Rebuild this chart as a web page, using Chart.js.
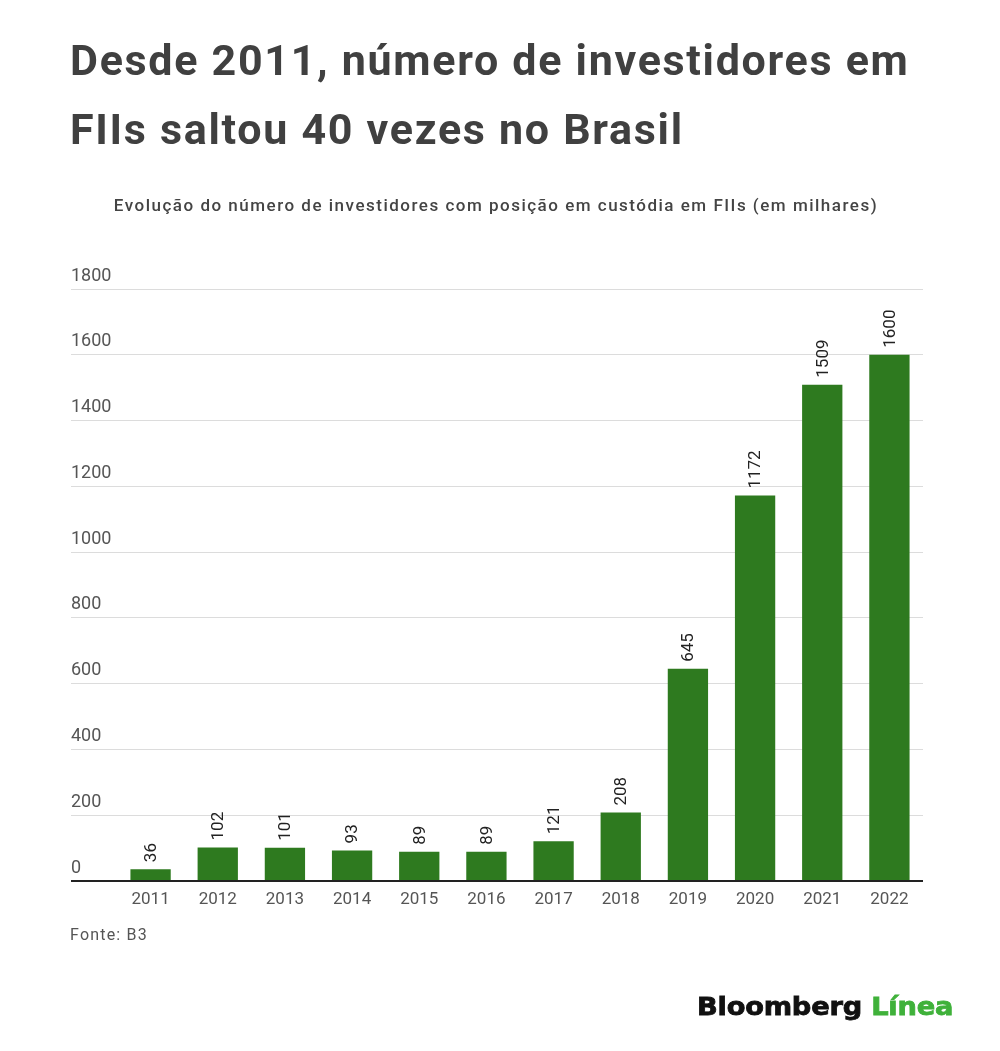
<!DOCTYPE html>
<html>
<head>
<meta charset="utf-8">
<script src="https://cdn.jsdelivr.net/npm/chart.js@4"></script>
<style>
  html, body { margin: 0; padding: 0; background: #fff; }
  body { width: 1000px; height: 1051px; position: relative; overflow: hidden; font-family: Roboto, "Noto Sans", sans-serif; }
  #title { position: absolute; left: 70px; top: 26px; width: 930px; font-size: 43px; letter-spacing: 1.7px; font-weight: 700; line-height: 69px; color: #404040; white-space: nowrap; }
  #subtitle { position: absolute; left: 0; width: 992px; top: 195px; text-align: center; font-size: 17px; letter-spacing: 1.5px; font-weight: 500; color: #444; white-space: nowrap; }
  #source { position: absolute; left: 70px; top: 925px; font-size: 16px; letter-spacing: 1.2px; color: #555; }
  #logo { position: absolute; left: 697px; top: 994px; font-family: "DejaVu Sans", sans-serif; font-size: 25px; line-height: 25px; font-weight: 700; color: #111; -webkit-text-stroke: 0.8px #111; letter-spacing: -0.2px; transform: scaleX(1.09); transform-origin: left top; white-space: nowrap; }
  #logo span { color: #3fb13a; -webkit-text-stroke: 0.8px #3fb13a; }
  #wrap { position: absolute; left: 0; top: 0; width: 1000px; height: 1051px; }
</style>
</head>
<body>
<div id="wrap"><canvas id="c"></canvas></div>
<div id="title">Desde 2011, número de investidores em<br>FIIs saltou 40 vezes no Brasil</div>
<div id="subtitle">Evolução do número de investidores com posição em custódia em FIIs (em milhares)</div>
<div id="source">Fonte: B3</div>
<div id="logo">Bloomberg <span>Línea</span></div>
<script>
const years = ['2011','2012','2013','2014','2015','2016','2017','2018','2019','2020','2021','2022'];
const investors = [36, 102, 101, 93, 89, 89, 121, 208, 645, 1172, 1509, 1600];
const yTicks = [0, 200, 400, 600, 800, 1000, 1200, 1400, 1600, 1800];

const barLabels = {
  id: 'barLabels',
  afterDatasetsDraw(chart) {
    const ctx = chart.ctx;
    const meta = chart.getDatasetMeta(0);
    ctx.save();
    ctx.font = '17px Roboto';
    ctx.fillStyle = '#222';
    ctx.textAlign = 'left';
    ctx.textBaseline = 'middle';
    meta.data.forEach((bar, i) => {
      ctx.save();
      ctx.translate(bar.x + 1, bar.y - 7);
      ctx.rotate(-Math.PI / 2);
      ctx.fillText(String(investors[i]), 0, 0);
      ctx.restore();
    });
    ctx.restore();
  }
};

new Chart(document.getElementById('c'), {
  type: 'bar',
  data: {
    labels: years,
    datasets: [{
      data: investors,
      backgroundColor: '#2e7a1f',
      barPercentage: 0.6,
      categoryPercentage: 1.0
    }]
  },
  options: {
    responsive: true,
    maintainAspectRatio: false,
    animation: false,
    events: [],
    layout: { padding: { top: 289, left: 71, right: 77, bottom: 130 } },
    plugins: { legend: { display: false }, tooltip: { enabled: false } },
    scales: {
      x: {
        grid: { display: false, drawTicks: false },
        border: { display: false },
        ticks: { color: '#555', font: { family: 'Roboto', size: 17 }, padding: 9, maxRotation: 0 },
        afterFit(s) { s.height = 40; }
      },
      y: {
        min: 0, max: 1800,
        afterBuildTicks(s) { s.ticks = yTicks.map(v => ({ value: v })); },
        grid: {
          color: c => c.tick && c.tick.value === 0 ? '#222' : '#dcdcdc',
          lineWidth: c => c.tick && c.tick.value === 0 ? 2 : 1,
          tickColor: c => c.tick && c.tick.value === 0 ? '#222' : '#dcdcdc',
          tickLength: 46,
          drawTicks: true
        },
        border: { display: false },
        ticks: {
          color: '#555', font: { family: 'Roboto', size: 18 },
          crossAlign: 'far', padding: 0, labelOffset: -13,
          callback: v => String(v)
        },
        afterFit(s) { s.width = 46; }
      }
    }
  },
  plugins: [barLabels]
});
</script>
</body>
</html>
